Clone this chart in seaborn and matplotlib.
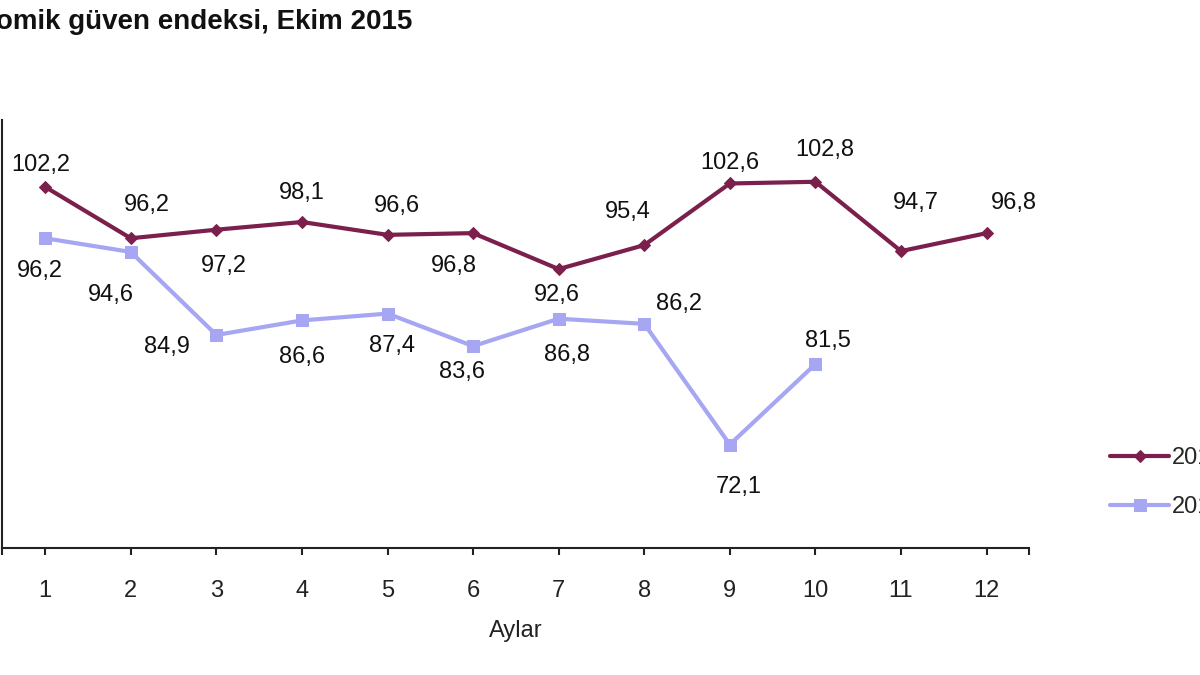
import pandas as pd
import matplotlib.pyplot as plt
import seaborn as sns

# Data
months = list(range(1, 13))
values_2014 = [102.2, 96.2, 97.2, 98.1, 96.6, 96.8, 92.6, 95.4, 102.6, 102.8, 94.7, 96.8]
values_2015 = [96.2, 94.6, 84.9, 86.6, 87.4, 83.6, 86.8, 86.2, 72.1, 81.5]
years = ["2014", "2015"]
title = "Ekonomik güven endeksi, Ekim 2015"
x_label = "Aylar"

# label offsets in pixels (dx, dy up), placed by hand like the original
offsets_2014 = [(-4, 22), (16, 33), (8, -36), (0, 29), (9, 29), (-19, -33),
                (-2, -26), (-16, 33), (0, 20), (9, 32), (15, 48), (27, 30)]
offsets_2015 = [(-5, -33), (-20, -43), (-49, -12), (0, -37), (4, -32), (-11, -26),
                (8, -36), (35, 20), (9, -42), (13, 23)]

colors = ["#7b1f4c", "#a6a6f2"]
markers = ["D", "s"]
marker_sizes = [6.5, 9]

# Long-form table for seaborn
frames = []
for year, vals in zip(years, [values_2014, values_2015]):
    frames.append(pd.DataFrame({"Ay": months[:len(vals)], "Endeks": vals, "Yil": year}))
df = pd.concat(frames, ignore_index=True)

sns.set_style("white")
plt.rcParams["font.family"] = ["Liberation Sans", "DejaVu Sans"]

fig = plt.figure(figsize=(12, 6.75), dpi=100)
ax = fig.add_axes([0.002, 0.188, 0.8558, 0.634])

for year, color, marker, ms in zip(years, colors, markers, marker_sizes):
    sns.lineplot(
        data=df[df["Yil"] == year],
        x="Ay",
        y="Endeks",
        color=color,
        marker=marker,
        markersize=ms,
        markeredgecolor=color,
        linewidth=3,
        label=year,
        ax=ax,
    )

# Data labels with decimal comma
for vals, offs in [(values_2014, offsets_2014), (values_2015, offsets_2015)]:
    for m, v, (dx, dy) in zip(months, vals, offs):
        ax.annotate(
            f"{v:.1f}".replace(".", ","),
            (m, v),
            xytext=(dx, dy),
            textcoords="offset pixels",
            ha="center",
            va="center",
            fontsize=17,
            color="#111111",
        )

ax.set_xlim(0.5, 12.5)
ax.set_ylim(60, 110)
ax.set_xticks(months)
ax.set_xticks([0.5, 12.5], minor=True)
ax.set_yticks([])
ax.tick_params(axis="x", which="both", direction="out", length=5, width=1.5,
               colors="#222222", labelsize=17, pad=18, bottom=True)
ax.set_xlabel(x_label, fontsize=17, labelpad=13, color="#222222")
ax.set_ylabel("")
for side in ["top", "right"]:
    ax.spines[side].set_visible(False)
for side in ["left", "bottom"]:
    ax.spines[side].set_color("#222222")
    ax.spines[side].set_linewidth(1.5)

# Legend sits at the right edge and is cut off, like the screenshot
ax.legend(
    loc="upper left",
    bbox_to_anchor=(1110 / 1200, 1 - 447 / 675),
    bbox_transform=fig.transFigure,
    frameon=False,
    fontsize=17,
    borderpad=0,
    borderaxespad=0,
    handlelength=2.5,
    handletextpad=0.1,
    labelspacing=1.15,
)

# Title, left part cropped off as in the original
fig.text(412 / 1200, 1 - 22 / 675, title, ha="right", va="center",
         fontsize=20, fontweight="bold", color="#111111")

fig.savefig("out.png", dpi=100)
